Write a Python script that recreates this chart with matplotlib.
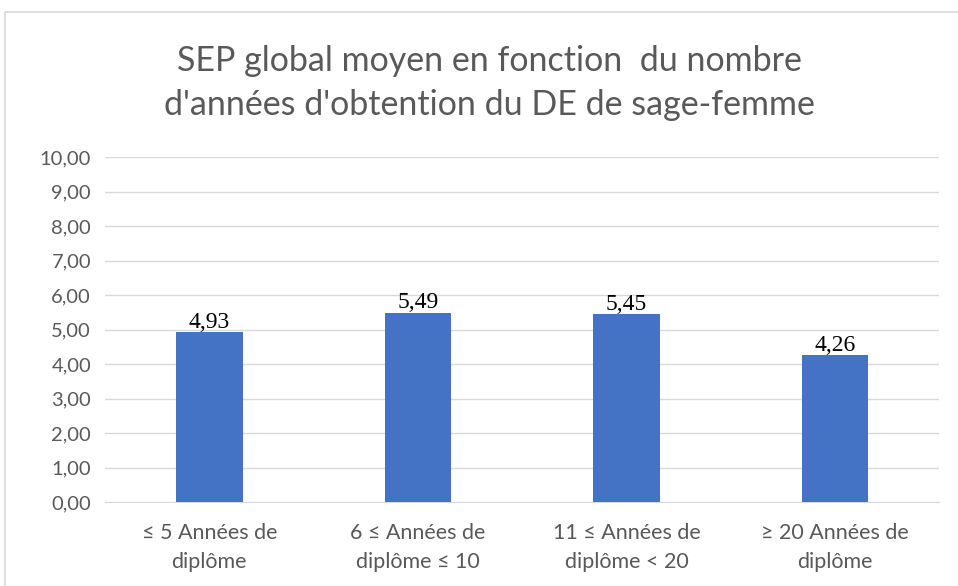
import matplotlib.pyplot as plt
from matplotlib.patches import Rectangle

# données
categories = ['≤ 5 Années de\ndiplôme', '6 ≤ Années de\ndiplôme ≤ 10',
              '11 ≤ Années de\ndiplôme < 20', '≥ 20 Années de\ndiplôme']
sep_moyen = [4.93, 5.49, 5.45, 4.26]
y_ticks = [0, 1, 2, 3, 4, 5, 6, 7, 8, 9, 10]

fig = plt.figure(figsize=(9.58, 5.86), dpi=100)
ax = fig.add_axes([0.1096, 0.1433, 0.871, 0.5887])

# cadre du graphique
fig.patches.append(Rectangle((5 / 958, -0.05), 1.1, 1 - 12 / 586 + 0.05,
                             transform=fig.transFigure, fill=False,
                             edgecolor='#d9d9d9', linewidth=1.2))

x = range(len(categories))
bars = ax.bar(x, sep_moyen, width=0.32, color='#4472c4', zorder=3)
for b, v in zip(bars, sep_moyen):
    ax.text(b.get_x() + b.get_width() / 2, v - 0.02, f'{v:.2f}'.replace('.', ','),
            ha='center', va='bottom', fontsize=17, family='Liberation Serif')

ax.set_ylim(0, 10)
ax.set_xlim(-0.5, 3.5)
ax.set_yticks(y_ticks)
ax.set_yticklabels([f'{t:.2f}'.replace('.', ',') for t in y_ticks],
                   fontsize=14.5, color='#595959', family='Lato')
ax.set_xticks(list(x))
ax.set_xticklabels(categories, fontsize=15.5, color='#595959', family='Lato',
                   linespacing=1.6)
ax.tick_params(length=0, pad=10)
ax.tick_params(axis='x', pad=15)
ax.grid(axis='y', color='#d9d9d9', linewidth=1, zorder=0)
for s in ['top', 'right', 'left']:
    ax.spines[s].set_visible(False)
ax.spines['bottom'].set_color('#d9d9d9')

fig.text(0.511, 0.858, "SEP global moyen en fonction  du nombre\nd'années d'obtention du DE de sage-femme",
         ha='center', va='center', fontsize=24.5, color='#595959', family='Lato',
         linespacing=1.45)

fig.savefig('out.png')
